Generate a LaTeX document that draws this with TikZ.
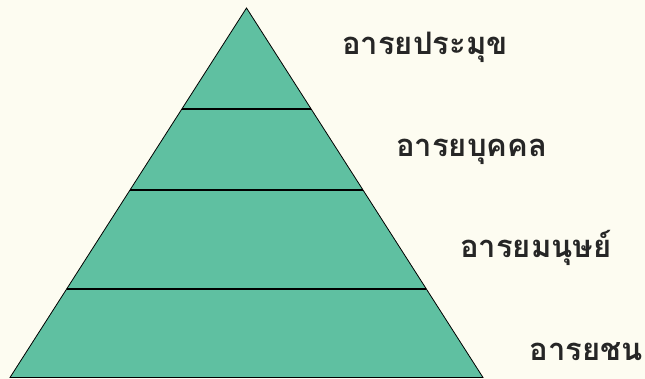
\documentclass[tikz,border=0pt]{standalone}
\usepackage{fontspec}
\newfontfamily\thaifont[Script=Thai]{Loma}
\usetikzlibrary{calc}
\definecolor{tiergreen}{RGB}{95,192,161}
\definecolor{paper}{RGB}{253,252,241}
\tikzset{
  tier/.style    = {fill=tiergreen, draw=black, line width=0.8pt, line join=miter},
  divider/.style = {draw=black, line width=1.2pt},
  level/.style   = {anchor=base west, inner sep=0pt, text=black!85,
                    font=\thaifont\bfseries\fontsize{31}{34}\selectfont}
}

\begin{document}
\begin{tikzpicture}[x=1pt,y=-1pt]
% paper background
\fill[paper] (0,0) rectangle (645,379);
\useasboundingbox (0,0) rectangle (645,379);

% pyramid outline
\coordinate (apex)  at (246.5,8);
\coordinate (left)  at (10,377.5);
\coordinate (right) at (483,377.5);
\draw[tier] (apex) -- (left) -- (right) -- cycle;

% tier dividers
\foreach \t/\n in {0.2733/a, 0.4926/b, 0.7605/c} {
  \draw[divider] ($(apex)!\t!(left)$) coordinate (l\n) -- ($(apex)!\t!(right)$) coordinate (r\n);
}

% level labels
\node[level] (top)    at (342,55)  {อารยประมุข};
\node[level] (person) at (396,157) {อารยบุคคล};
\node[level] (human)  at (460,258) {อารยมนุษย์};
\node[level, anchor=base east] (people) at (643,360) {อารยชน};
\end{tikzpicture}
\end{document}
